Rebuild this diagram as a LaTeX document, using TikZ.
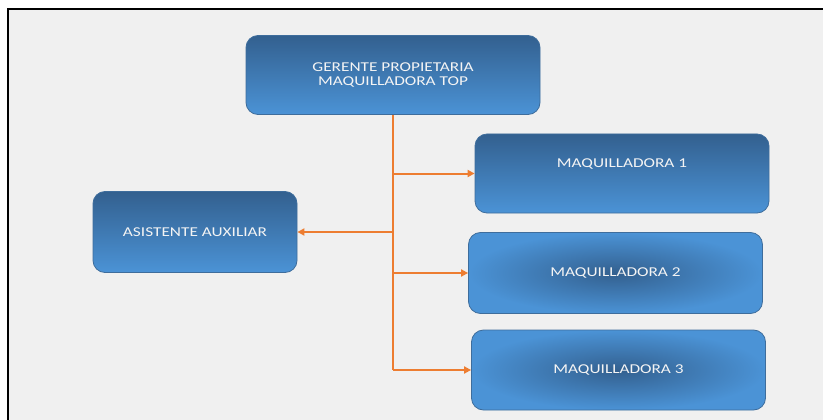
\documentclass[tikz,border=0pt]{standalone}
\usepackage{fontspec}
\setmainfont{Carlito}
\newfontfamily\boxfont[FakeStretch=1.28]{Carlito}
\usetikzlibrary{arrows.meta,positioning}
\definecolor{bggrey}{HTML}{F0F0F0}
\definecolor{boxline}{HTML}{3E6D9C}
\definecolor{boxdark}{HTML}{33608F}
\definecolor{boxlight}{HTML}{4B93D6}
\definecolor{linkorange}{HTML}{ED7D31}
\definecolor{boxtext}{HTML}{F4F4F4}

\begin{document}
\begin{tikzpicture}[x=1pt,y=-1pt,
  box/.style={draw=boxline,line width=.8pt,rounded corners=12pt,text=boxtext,
    font=\boxfont\fontsize{13.5}{14.5}\selectfont,align=center,
    minimum width=294pt,minimum height=79pt,inner sep=0pt},
  flatbox/.style={box,top color=boxdark,bottom color=boxlight},
  blurbox/.style={box,inner color=boxdark,outer color=boxlight},
  link/.style={draw=linkorange,line width=2pt},
  tolink/.style={link,-{Triangle[length=7pt,width=7pt]}}]

\useasboundingbox (0,0) rectangle (823,420);
%frame
\fill[white] (0,0) rectangle (823,420);
\fill[bggrey] (9,10) rectangle (823,420);
\draw[line width=2.5pt] (8,420) -- (8,9) -- (823,9);

%boxes
\node[flatbox] (top) at (393,75) {GERENTE PROPIETARIA\\MAQUILLADORA TOP};
\node[flatbox] (m1) at (622,173.5) {\raisebox{20pt}{MAQUILLADORA 1}};
\node[flatbox,minimum width=204pt,minimum height=81pt] (asis) at (195,232) {ASISTENTE AUXILIAR};
\node[blurbox,minimum height=81pt] (m2) at (615.5,273) {MAQUILLADORA 2};
\node[blurbox,minimum height=80pt] (m3) at (618.5,370) {MAQUILLADORA 3};

%junctions on the trunk
\coordinate (j1) at (top.south |- m1.west);
\coordinate (j2) at (top.south |- asis.east);
\coordinate (j3) at (top.south |- m2.west);
\coordinate (j4) at (top.south |- m3.west);

%connectors
\draw[link] (top.south) -- (j4);
\draw[tolink] (j1) -- (m1.west);
\draw[tolink] (j2) -- (asis.east);
\draw[tolink] (j3) -- (m2.west);
\draw[tolink] (j4) -- (m3.west);
\end{tikzpicture}
\end{document}
